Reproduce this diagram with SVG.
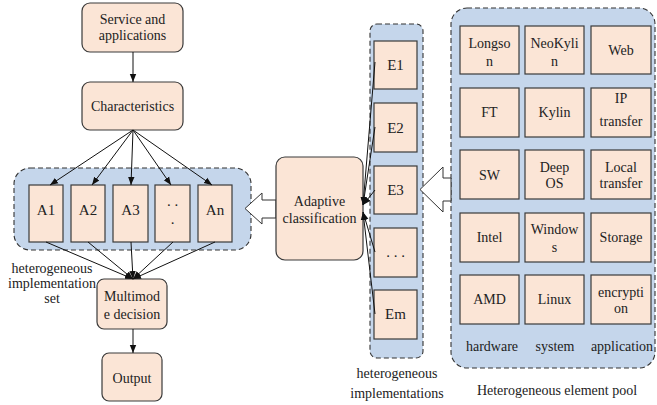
<svg xmlns="http://www.w3.org/2000/svg" width="657" height="405" viewBox="0 0 657 405">
<defs>
<marker id="ah" markerWidth="8" markerHeight="8" refX="8" refY="4" orient="auto" markerUnits="userSpaceOnUse">
<path d="M0,0.8 L8,4 L0,7.2 Z" fill="#111"/>
</marker>
</defs>
<style>
.box{fill:#FBE5D6;stroke:#3a3a3a;stroke-width:1.2}
.grp{fill:#C5D6EB;stroke:#333;stroke-width:1.1;stroke-dasharray:5,3}
text{font-family:'Liberation Serif','Times New Roman','DejaVu Serif',serif;fill:#222;text-anchor:middle}
.t{font-size:14px}
.c{font-size:15px}
.ln{stroke:#111;stroke-width:1;fill:none}
.hol{fill:#fff;stroke:#333;stroke-width:1}
</style>
<rect width="657" height="405" fill="#fff"/>

<!-- containers -->
<g id="setA"><rect class="grp" x="14" y="168" width="237" height="82" rx="16"/></g>
<g id="setE"><rect class="grp" x="370" y="24" width="53" height="334" rx="7"/></g>
<g id="pool"><rect class="grp" x="451" y="8" width="204" height="360" rx="16"/></g>

<!-- hollow arrows -->
<g id="hollow">
<path class="hol" d="M276,200 L262,200 L262,193 L245,208.5 L262,224 L262,218 L276,218 Z"/>
<path class="hol" d="M451,178 L443,178 L443,167 L420,189.5 L443,212 L443,201 L451,201 Z"/>
</g>

<g font-family="Liberation Serif, serif">
<!-- nodes -->
<g id="service"><rect class="box" x="82" y="3" width="101" height="49" rx="8"/>
<text class="t" x="132.5" y="24">Service and</text><text class="t" x="132.5" y="40">applications</text></g>
<g id="characteristics"><rect class="box" x="82" y="82" width="101" height="48" rx="8"/>
<text class="t" x="132.5" y="111">Characteristics</text></g>

<g id="A1"><rect class="box" x="29" y="185" width="34" height="57"/><text class="c" x="46" y="215">A1</text></g>
<g id="A2"><rect class="box" x="71" y="185" width="34" height="57"/><text class="c" x="88" y="215">A2</text></g>
<g id="A3"><rect class="box" x="113" y="185" width="35" height="57"/><text class="c" x="130.5" y="215">A3</text></g>
<g id="Adots"><rect class="box" x="155" y="185" width="35" height="57"/><text class="c" x="172.5" y="206">. .</text><text class="c" x="172.5" y="224">.</text></g>
<g id="An"><rect class="box" x="198" y="185" width="34" height="57"/><text class="c" x="215" y="215">An</text></g>

<g id="multimode"><rect class="box" x="97" y="279" width="70" height="50" rx="7"/>
<text class="t" x="132" y="301">Multimod</text><text class="t" x="132" y="319">e decision</text></g>
<g id="output"><rect class="box" x="102" y="353" width="60" height="48" rx="7"/>
<text class="t" x="132" y="383">Output</text></g>

<g id="adaptive"><rect class="box" x="276" y="157" width="87" height="103" rx="9"/>
<text class="t" x="319.5" y="206">Adaptive</text><text class="t" x="319.5" y="223">classification</text></g>

<g id="E1"><rect class="box" x="374" y="41" width="43" height="48"/><text class="c" x="395.5" y="70">E1</text></g>
<g id="E2"><rect class="box" x="374" y="103" width="43" height="49"/><text class="c" x="395.5" y="133">E2</text></g>
<g id="E3"><rect class="box" x="374" y="166" width="43" height="48"/><text class="c" x="395.5" y="195">E3</text></g>
<g id="Edots"><rect class="box" x="374" y="228" width="43" height="49"/><text class="c" x="395.5" y="257">. . .</text></g>
<g id="Em"><rect class="box" x="374" y="290" width="43" height="49"/><text class="c" x="395.5" y="319">Em</text></g>

<!-- pool elements -->
<g id="Longson"><rect class="box" x="460" y="26" width="59" height="48"/><text class="t" x="489.5" y="48">Longso</text><text class="t" x="489.5" y="66">n</text></g>
<g id="NeoKylin"><rect class="box" x="525" y="26" width="59" height="48"/><text class="t" x="554.5" y="48">NeoKyli</text><text class="t" x="554.5" y="66">n</text></g>
<g id="Web"><rect class="box" x="591" y="26" width="60" height="48"/><text class="t" x="621" y="55">Web</text></g>

<g id="FT"><rect class="box" x="460" y="88" width="59" height="49"/><text class="t" x="489.5" y="117">FT</text></g>
<g id="Kylin"><rect class="box" x="525" y="88" width="59" height="49"/><text class="t" x="554.5" y="117">Kylin</text></g>
<g id="IP"><rect class="box" x="591" y="88" width="60" height="49"/><text class="t" x="621" y="103">IP</text><text class="t" x="621" y="126">transfer</text></g>

<g id="SW"><rect class="box" x="460" y="150" width="59" height="49"/><text class="t" x="489.5" y="180">SW</text></g>
<g id="DeepOS"><rect class="box" x="525" y="150" width="59" height="49"/><text class="t" x="554.5" y="172">Deep</text><text class="t" x="554.5" y="188">OS</text></g>
<g id="Local"><rect class="box" x="591" y="150" width="60" height="49"/><text class="t" x="621" y="172">Local</text><text class="t" x="621" y="188">transfer</text></g>

<g id="Intel"><rect class="box" x="460" y="213" width="59" height="49"/><text class="t" x="489.5" y="242">Intel</text></g>
<g id="Windows"><rect class="box" x="525" y="213" width="59" height="49"/><text class="t" x="554.5" y="234">Window</text><text class="t" x="554.5" y="252">s</text></g>
<g id="Storage"><rect class="box" x="591" y="213" width="60" height="49"/><text class="t" x="621" y="242">Storage</text></g>

<g id="AMD"><rect class="box" x="460" y="275" width="59" height="49"/><text class="t" x="489.5" y="304">AMD</text></g>
<g id="Linux"><rect class="box" x="525" y="275" width="59" height="49"/><text class="t" x="554.5" y="304">Linux</text></g>
<g id="encryption"><rect class="box" x="591" y="275" width="60" height="49"/><text class="t" x="621" y="297">encrypti</text><text class="t" x="621" y="313">on</text></g>

<!-- labels -->
<g id="labels">
<text class="t" x="52" y="273">heterogeneous</text>
<text class="t" x="52" y="288">implementation</text>
<text class="t" x="52" y="303">set</text>
<text class="t" x="397" y="378">heterogeneous</text>
<text class="t" x="397" y="398">implementations</text>
<text class="t" x="492" y="351">hardware</text>
<text class="t" x="555" y="351">system</text>
<text class="t" x="622" y="351">application</text>
<text class="t" x="557" y="395">Heterogeneous element pool</text>
</g>
</g>

<!-- connectors -->
<g id="connectors">
<line class="ln" x1="133" y1="52" x2="133" y2="82" marker-end="url(#ah)"/>
<line class="ln" x1="133" y1="130" x2="50" y2="185" marker-end="url(#ah)"/>
<line class="ln" x1="133" y1="130" x2="92" y2="185" marker-end="url(#ah)"/>
<line class="ln" x1="133" y1="130" x2="131" y2="185" marker-end="url(#ah)"/>
<line class="ln" x1="133" y1="130" x2="171" y2="185" marker-end="url(#ah)"/>
<line class="ln" x1="133" y1="130" x2="212" y2="185" marker-end="url(#ah)"/>
<line class="ln" x1="46" y1="242" x2="133" y2="279" marker-end="url(#ah)"/>
<line class="ln" x1="88" y1="242" x2="133" y2="279" marker-end="url(#ah)"/>
<line class="ln" x1="131" y1="242" x2="133" y2="279" marker-end="url(#ah)"/>
<line class="ln" x1="173" y1="242" x2="133" y2="279" marker-end="url(#ah)"/>
<line class="ln" x1="215" y1="242" x2="133" y2="279" marker-end="url(#ah)"/>
<line class="ln" x1="133" y1="329" x2="133" y2="353" marker-end="url(#ah)"/>
<line class="ln" x1="375" y1="62" x2="363" y2="205" marker-end="url(#ah)"/>
<line class="ln" x1="375" y1="127" x2="363" y2="205" marker-end="url(#ah)"/>
<line class="ln" x1="375" y1="190" x2="363" y2="205" marker-end="url(#ah)"/>
<line class="ln" x1="375" y1="252" x2="363" y2="212" marker-end="url(#ah)"/>
<line class="ln" x1="375" y1="314" x2="363" y2="212" marker-end="url(#ah)"/>
</g>
</svg>
